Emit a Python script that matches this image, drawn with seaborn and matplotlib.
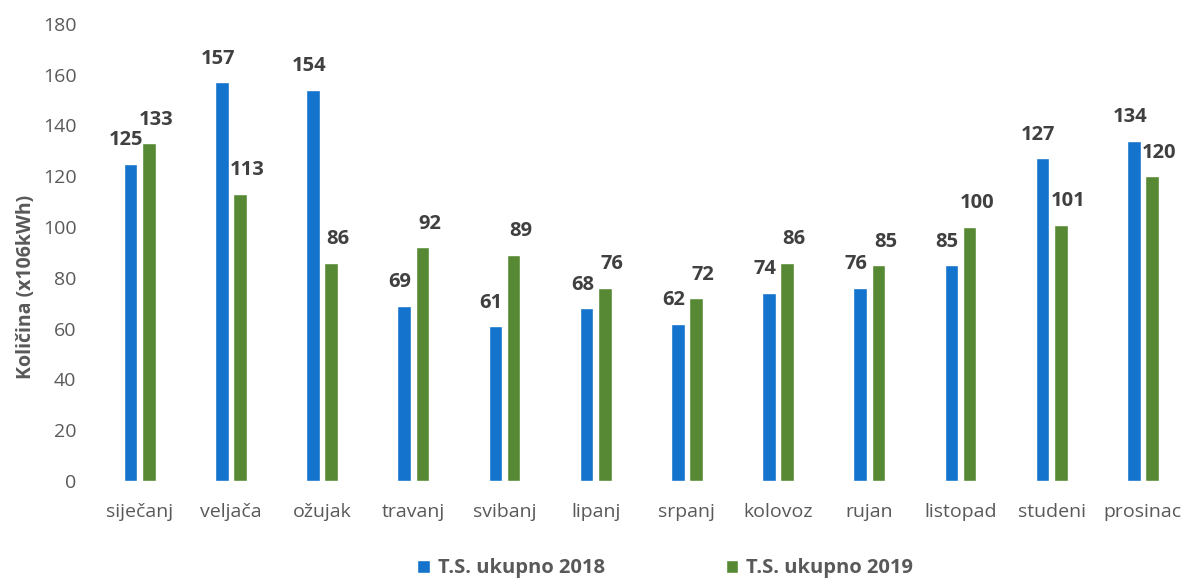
import pandas as pd
import numpy as np
import seaborn as sns
import matplotlib.pyplot as plt
from matplotlib.patches import Patch

months = ['siječanj', 'veljača', 'ožujak', 'travanj', 'svibanj', 'lipanj',
          'srpanj', 'kolovoz', 'rujan', 'listopad', 'studeni', 'prosinac']
vals_2018 = [125, 157, 154, 69, 61, 68, 62, 74, 76, 85, 127, 134]
vals_2019 = [133, 113, 86, 92, 89, 76, 72, 86, 85, 100, 101, 120]
series = ['T.S. ukupno 2018', 'T.S. ukupno 2019']
colors = ['#1473cc', '#578934']

df = pd.DataFrame({
    'mjesec': months * 2,
    'vrijednost': vals_2018 + vals_2019,
    'serija': [series[0]] * 12 + [series[1]] * 12,
})

sns.set_style('white')
plt.rcParams['font.family'] = ['Open Sans', 'DejaVu Sans']

fig = plt.figure(figsize=(11.94, 5.81), dpi=100)
ax = fig.add_axes([0.078, 0.172, 0.922, 0.787])

sns.barplot(data=df, x='mjesec', y='vrijednost', hue='serija', order=months,
            hue_order=series, palette=colors, width=0.4, gap=0.25,
            saturation=1, ax=ax, legend=False)

# value labels above bars
for i, cont in enumerate(ax.containers):
    dx = -3 if i == 0 else 5
    for bar in cont:
        h = bar.get_height()
        ax.annotate(f'{h:.0f}', (bar.get_x() + bar.get_width() / 2, h),
                    xytext=(dx, 17), textcoords='offset points',
                    ha='center', va='center', fontsize=14.5,
                    fontweight='bold', color='#404040')

ax.set_ylim(0, 180)
ax.set_xlim(-0.51, 11.56)
ax.set_yticks(range(0, 181, 20))
ax.set_xlabel('')
ax.set_ylabel('Količina (x106kWh)', fontsize=14, fontweight='bold',
              color='#595959', labelpad=6)
ax.yaxis.set_label_coords(-0.052, 0.425)
ax.tick_params(axis='both', colors='#595959', labelsize=14, length=0)
ax.tick_params(axis='x', pad=16)
ax.tick_params(axis='y', pad=12)
sns.despine(ax=ax, left=True, bottom=True)

handles = [Patch(facecolor=c) for c in colors]
fig.legend(handles, series, loc='center', bbox_to_anchor=(0.557, 0.022),
           ncol=2, frameon=False, handlelength=0.6, handleheight=0.6,
           handletextpad=0.4, columnspacing=6,
           prop={'weight': 'bold', 'size': 14.5}, labelcolor='#595959')

fig.savefig('out.png', dpi=100)
